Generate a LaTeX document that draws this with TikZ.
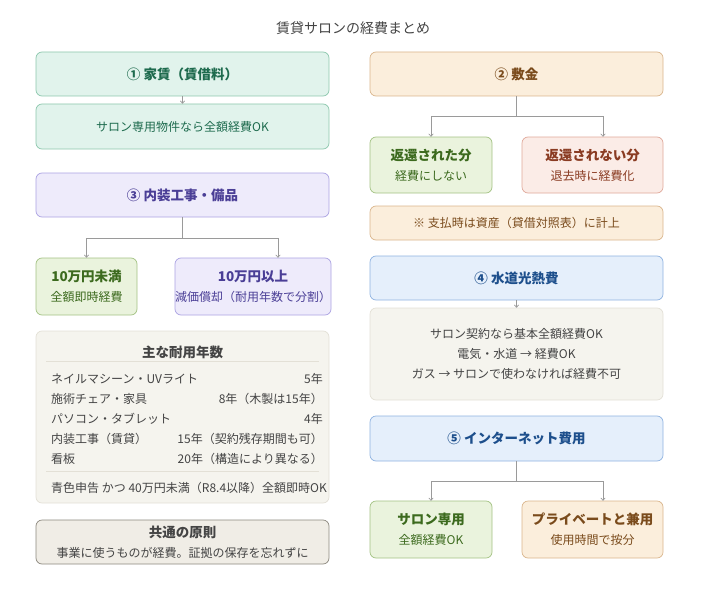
\documentclass[tikz,border=0pt]{standalone}
\usepackage{fontspec}
\setmainfont{Noto Sans CJK JP}
\usetikzlibrary{arrows.meta,positioning}

\definecolor{mintfill}{HTML}{E1F3EC}
\definecolor{mintline}{HTML}{8CC7AD}
\definecolor{minttext}{HTML}{1E6B4E}
\definecolor{lavfill}{HTML}{EEEBFB}
\definecolor{lavline}{HTML}{ABA2E2}
\definecolor{lavtext}{HTML}{4A3E96}
\definecolor{grnfill}{HTML}{EAF3DD}
\definecolor{grnline}{HTML}{A3C283}
\definecolor{grntext}{HTML}{3C6A1E}
\definecolor{peachfill}{HTML}{FBEEDC}
\definecolor{peachline}{HTML}{D9B58C}
\definecolor{peachtext}{HTML}{7A4B1C}
\definecolor{rosefill}{HTML}{FBECE7}
\definecolor{roseline}{HTML}{DFA89A}
\definecolor{rosetext}{HTML}{8A3B22}
\definecolor{bluefill}{HTML}{E5EFFB}
\definecolor{blueline}{HTML}{8EB2E0}
\definecolor{bluetext}{HTML}{1D4F8C}
\definecolor{tabfill}{HTML}{F5F4EE}
\definecolor{tabline}{HTML}{E3E0D6}
\definecolor{commonfill}{HTML}{F0EDE6}
\definecolor{commonline}{HTML}{8C887E}
\definecolor{bodytext}{HTML}{444444}
\definecolor{linkgray}{HTML}{9A9A9A}

\begin{document}
\begin{tikzpicture}
		[
		x = 1pt, y = -1pt,
		box/.style = {draw, rounded corners = 6pt, line width = 0.7pt, inner sep = 0pt, align = center,
			font = \fontsize{12}{20}\selectfont},
		head/.style = {box, font = \fontsize{13.5}{20}\selectfont\bfseries},
		mint/.style = {fill = mintfill, draw = mintline, text = minttext},
		lav/.style = {fill = lavfill, draw = lavline, text = lavtext},
		grn/.style = {fill = grnfill, draw = grnline, text = grntext},
		peach/.style = {fill = peachfill, draw = peachline, text = peachtext},
		rose/.style = {fill = rosefill, draw = roseline, text = rosetext},
		blue/.style = {fill = bluefill, draw = blueline, text = bluetext},
		wide/.style = {minimum width = 293pt},
		link/.style = {draw = linkgray, line width = 0.7pt, -{To[length = 3pt, width = 5pt]}},
		row/.style = {inner sep = 0pt, text = bodytext, font = \fontsize{12}{14}\selectfont},
		tabrule/.style = {draw = tabline, line width = 0.7pt}
		]
		
		\useasboundingbox (0,0) rectangle (706,591);
		
		\node (title) at (353,28) {\fontsize{14}{16}\selectfont\color{bodytext}賃貸サロンの経費まとめ};
		
		% left column
		\node [head, mint, wide, minimum height = 44pt] (rent) at (182.5,74) {① 家賃（賃借料）};
		\node [box, mint, wide, minimum height = 45pt] (rentnote) at (182.5,126.5) {サロン専用物件なら全額経費OK};
		\draw [link] (rent) -- (rentnote);
		
		\node [head, lav, wide, minimum height = 44pt] (interior) at (182.5,195) {③ 内装工事・備品};
		\node [box, grn, minimum width = 101pt, minimum height = 57pt] (under) at (86.5,286.5)
			{{\bfseries\fontsize{13.5}{20}\selectfont 10万円未満}\\全額即時経費};
		\node [box, lav, minimum width = 152pt, minimum height = 57pt] (over) at (253,286.5)
			{{\bfseries\fontsize{13.5}{20}\selectfont 10万円以上}\\減価償却（耐用年数で分割）};
		\draw [link] (interior.south) -- ++(0,21) -| (under.north);
		\draw [link] (interior.south) -- ++(0,21) -| ([xshift = 25pt]over.north);
		
		\node [box, fill = tabfill, draw = tabline, minimum width = 293pt, minimum height = 172pt] (life) at (182.5,417) {};
		\node [font = \fontsize{13.5}{16}\selectfont\bfseries, text = bodytext] (lifetitle) at (182.5,352) {主な耐用年数};
		\draw [tabrule] (46,361) -- (319,361);
		\foreach \n/\y/\l/\r in {
			1/379/ネイルマシーン・UVライト/5年,
			2/399/施術チェア・家具/8年（木製は15年）,
			3/419/パソコン・タブレット/4年,
			4/439/内装工事（賃貸）/15年（契約残存期間も可）,
			5/459/看板/20年（構造により異なる）}
		{
			\node [row, anchor = west] (item\n) at (51,\y) {\l};
			\node [row, anchor = east] (years\n) at (323,\y) {\r};
		}
		\draw [tabrule] (46,471) -- (319,471);
		\node [row, anchor = west] (blue) at (51,488) {青色申告 かつ 40万円未満（R8.4以降）全額即時OK};
		
		\node [box, fill = commonfill, draw = commonline, text = bodytext, wide, minimum height = 44pt] (common) at (182.5,542)
			{{\bfseries\fontsize{13.5}{18}\selectfont 共通の原則}\\事業に使うものが経費。証拠の保存を忘れずに};
		
		% right column
		\node [head, peach, wide, minimum height = 44pt] (deposit) at (516.5,74) {② 敷金};
		\node [box, grn, minimum width = 122pt, minimum height = 56pt] (returned) at (431,165)
			{{\bfseries\fontsize{13.5}{20}\selectfont 返還された分}\\経費にしない};
		\node [box, rose, minimum width = 141pt, minimum height = 56pt] (kept) at (592.5,165)
			{{\bfseries\fontsize{13.5}{20}\selectfont 返還されない分}\\退去時に経費化};
		\draw [link] (deposit.south) -- ++(0,20) -| (returned.north);
		\draw [link] (deposit.south) -- ++(0,20) -| ([xshift = 10.5pt]kept.north);
		\node [box, peach, wide, minimum height = 34pt] (depnote) at (516.5,223) {※ 支払時は資産（貸借対照表）に計上};
		
		\node [head, blue, wide, minimum height = 44pt] (utility) at (516.5,278) {④ 水道光熱費};
		\node [box, fill = tabfill, draw = tabline, text = bodytext, wide, minimum height = 92pt] (utilnote) at (516.5,354)
			{サロン契約なら基本全額経費OK\\電気・水道 → 経費OK\\ガス → サロンで使わなければ経費不可};
		\draw [link] (utility) -- (utilnote);
		
		\node [head, blue, wide, minimum height = 45pt] (net) at (516.5,438.5) {⑤ インターネット費用};
		\node [box, grn, minimum width = 122pt, minimum height = 57pt] (salononly) at (431,529.5)
			{{\bfseries\fontsize{13.5}{20}\selectfont サロン専用}\\全額経費OK};
		\node [box, peach, minimum width = 141pt, minimum height = 57pt] (shared) at (592.5,529.5)
			{{\bfseries\fontsize{13.5}{20}\selectfont プライベートと兼用}\\使用時間で按分};
		\draw [link] (net.south) -- ++(0,20) -| (salononly.north);
		\draw [link] (net.south) -- ++(0,20) -| ([xshift = 10.5pt]shared.north);
		
\end{tikzpicture}
\end{document}
